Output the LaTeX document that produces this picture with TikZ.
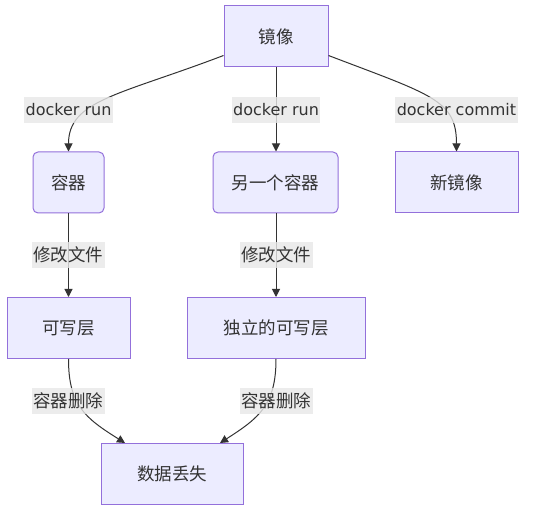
\documentclass[tikz,border=0pt]{standalone}
\usepackage{fontspec}
\setmainfont{DejaVu Sans}
\newfontfamily\cjk{Noto Sans CJK SC}
\usetikzlibrary{arrows.meta}
\definecolor{nodefill}{HTML}{ECECFF}
\definecolor{nodeline}{HTML}{9370DB}
\definecolor{ink}{HTML}{333333}
\definecolor{lblbg}{HTML}{E8E8E8}
\begin{document}
\begin{tikzpicture}[x=1pt,y=-1pt,
 box/.style={draw=nodeline, fill=nodefill, line width=1pt, text=ink, font=\cjk\fontsize{17.5}{20}\selectfont, inner sep=0pt, minimum height=61pt},
 rbox/.style={box, rounded corners=5pt},
 lbl/.style={fill=lblbg, fill opacity=0.8, text opacity=1, text=ink, inner xsep=1.5pt, inner ysep=0pt, minimum height=26pt},
 lblcn/.style={lbl, font=\cjk\fontsize{17.5}{20}\selectfont},
 lblen/.style={lbl, font=\fontsize{16}{19}\selectfont},
 arr/.style={draw=ink, line width=1pt, -{Triangle[length=8pt,width=8pt]}}]
\fill[white] (0,0) rectangle (539,513);
\node[box, minimum width=104pt] (img) at (276,36.5) {镜像};
\node[rbox, minimum width=71pt] (c1) at (68.5,182.5) {容器};
\node[rbox, minimum width=125pt] (c2) at (275.5,182.5) {另一个容器};
\node[box, minimum width=123pt] (nimg) at (456.5,182.5) {新镜像};
\node[box, minimum width=123pt] (w1) at (68.5,328) {可写层};
\node[box, minimum width=178pt] (w2) at (276,328) {独立的可写层};
\node[box, minimum width=142pt] (loss) at (172,474) {数据丢失};
\draw[arr] ([yshift=12pt]img.south west) .. controls (120,95) and (68.5,100) .. (c1.north);
\draw[arr] (img.south) -- (img.south |- c2.north);
\draw[arr] ([yshift=12pt]img.south east) .. controls (432,95) and (456.5,100) .. (nimg.north);
\draw[arr] (w1.north |- c1.south) -- (w1.north);
\draw[arr] (w2.north |- c2.south) -- (w2.north);
\draw[arr] (w1.south) .. controls (68.5,405) and (85,418) .. ([xshift=-47pt]loss.north);
\draw[arr] (w2.south) .. controls (276,405) and (259,418) .. ([xshift=48pt]loss.north);
\node[lblen] (l1) at (68.5,110) {docker run};
\node[lblen] (l2) at (276,110) {docker run};
\node[lblen] (l3) at (456.5,110) {docker commit};
\node[lblcn] (l4) at (68.5,255) {修改文件};
\node[lblcn] (l5) at (276,255) {修改文件};
\node[lblcn] (l6) at (68.5,401) {容器删除};
\node[lblcn] (l7) at (276,401) {容器删除};
\end{tikzpicture}
\end{document}
